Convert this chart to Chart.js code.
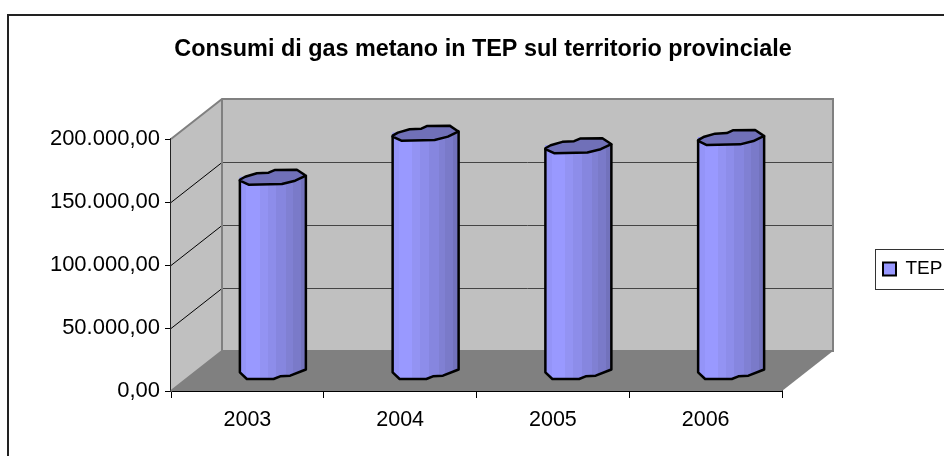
<!DOCTYPE html>
<html>
<head>
<meta charset="utf-8">
<title>Consumi di gas metano</title>
<script src="https://cdn.jsdelivr.net/npm/chart.js@4"></script>
<style>
    html, body { margin: 0; padding: 0; background: #fff; }
    canvas { display: block; }
</style>
</head>
<body>
<canvas id="chart" width="944" height="456"></canvas>
<script>
// Chart data
const years = ['2003', '2004', '2005', '2006'];
const tepValues = [154000, 189000, 179000, 185500];
const yTickLabels = ['0,00', '50.000,00', '100.000,00', '150.000,00', '200.000,00'];

// Depth of the fake 3D box
const depthX = 51;
const depthY = 40;
const barWidth = 66;

// Colour bands across a cylinder, left to right
const bandColors = ['#9494F8', '#9999FF', '#9393F3', '#8D8DEA', '#8686DF', '#8080D3', '#7A7AC9', '#7272BC'];
const bandEnds = [0.1, 0.3, 0.42, 0.55, 0.7, 0.8, 0.92, 1];

// Outline of the cap and bottom edge, relative to the cylinder centre
const capShape = [[-33, 2.7], [-27.7, -0.3], [-16, -3.7], [-4.3, -4.3], [1.7, -7], [24, -7.3], [32, -2], [33, -1.5],
    [22.3, 3.7], [9, 7], [-24.3, 7.7], [-33, 3.6]];
const bottomShape = [[-33, 1.3], [-26, 8], [0.7, 8], [7.3, 5.3], [17.3, 4.7], [31.7, -1], [33, -1.5]];

function barGradient(ctx, centerX) {
    const left = centerX - barWidth / 2;
    const gradient = ctx.createLinearGradient(left, 0, left + barWidth, 0);
    let start = 0;
    bandColors.forEach((color, i) => {
        gradient.addColorStop(start, color);
        gradient.addColorStop(bandEnds[i], color);
        start = bandEnds[i];
    });
    return gradient;
}

function polygon(ctx, points) {
    ctx.beginPath();
    points.forEach((p, i) => i ? ctx.lineTo(p[0], p[1]) : ctx.moveTo(p[0], p[1]));
    ctx.closePath();
}

// Walls, floor and grid lines behind the bars
const boxPlugin = {
    id: 'box3d',
    beforeDraw(chart) {
        const ctx = chart.ctx;
        ctx.save();
        ctx.strokeStyle = '#222';
        ctx.lineWidth = 2;
        ctx.beginPath();
        ctx.moveTo(8, 456);
        ctx.lineTo(8, 15);
        ctx.lineTo(944, 15);
        ctx.stroke();
        ctx.restore();
    },
    beforeDatasetsDraw(chart) {
        const ctx = chart.ctx;
        const { left, right, top, bottom } = chart.chartArea;
        const y = chart.scales.y;
        ctx.save();

        polygon(ctx, [[left, top], [left + depthX, top - depthY], [left + depthX, bottom - depthY], [left, bottom]]);
        ctx.fillStyle = '#C0C0C0';
        ctx.fill();
        ctx.fillRect(left + depthX, top - depthY, right - left, bottom - top);

        polygon(ctx, [[left, bottom], [right, bottom], [right + depthX, bottom - depthY], [left + depthX, bottom - depthY]]);
        ctx.fillStyle = '#808080';
        ctx.fill();

        // grid lines from the value scale
        ctx.lineWidth = 1;
        y.ticks.forEach(tick => {
            if (tick.value === 0 || tick.value === y.max) return;
            const py = Math.round(y.getPixelForValue(tick.value)) + 0.5;
            ctx.strokeStyle = '#000';
            ctx.beginPath();
            ctx.moveTo(left, py);
            ctx.lineTo(left + depthX, py - depthY);
            ctx.stroke();
            ctx.strokeStyle = '#444';
            ctx.beginPath();
            ctx.moveTo(left + depthX, py - depthY);
            ctx.lineTo(right + depthX, py - depthY);
            ctx.stroke();
        });

        // wall edges
        ctx.strokeStyle = '#808080';
        ctx.lineWidth = 2;
        ctx.beginPath();
        ctx.moveTo(left, top);
        ctx.lineTo(left + depthX, top - depthY);
        ctx.lineTo(right + depthX, top - depthY);
        ctx.lineTo(right + depthX, bottom - depthY);
        ctx.lineTo(left + depthX, bottom - depthY);
        ctx.lineTo(left + depthX, top - depthY);
        ctx.moveTo(left + depthX, bottom - depthY);
        ctx.lineTo(left, bottom);
        ctx.stroke();
        ctx.restore();
    },
    // Bars sit halfway into the box
    beforeDatasetDraw(chart) {
        chart.ctx.save();
        chart.ctx.translate(depthX / 2, -depthY / 2);
    },
    afterDatasetDraw(chart, args) {
        const ctx = chart.ctx;
        const base = chart.scales.y.getPixelForValue(0);
        ctx.lineWidth = 2.5;
        ctx.lineJoin = 'round';
        ctx.strokeStyle = '#000';
        args.meta.data.forEach(bar => {
            const cx = bar.x;
            const half = barWidth / 2;
            const bottomPts = bottomShape.map(p => [cx + p[0], base + p[1]]);

            // rounded bottom of the body
            polygon(ctx, [[cx - half, base - 2]].concat(bottomPts, [[cx + half, base - 2]]));
            ctx.fillStyle = barGradient(ctx, cx);
            ctx.fill();

            // outline of the sides and bottom
            ctx.beginPath();
            ctx.moveTo(cx - half, bar.y + 3);
            bottomPts.forEach(p => ctx.lineTo(p[0], p[1]));
            ctx.lineTo(cx + half, bar.y - 1.5);
            ctx.stroke();

            // top cap
            polygon(ctx, capShape.map(p => [cx + p[0], bar.y + p[1]]));
            ctx.fillStyle = '#7070B8';
            ctx.fill();
            ctx.stroke();
        });
        ctx.restore();
    },
    // Legend sits in a frame cut by the right edge of the picture
    afterLayout(chart) {
        chart.legend.left = 875;
        chart.legend.right = 944;
        chart.legend.top = 249;
        chart.legend.bottom = 289;
    },
    afterDraw(chart) {
        const ctx = chart.ctx;
        ctx.save();
        ctx.strokeStyle = '#333';
        ctx.lineWidth = 1;
        ctx.strokeRect(875.5, 249.5, 80, 40);
        ctx.restore();
    }
};

new Chart(document.getElementById('chart'), {
    type: 'bar',
    data: {
        labels: years,
        datasets: [{
            label: 'TEP',
            data: tepValues,
            barThickness: barWidth,
            backgroundColor: context => {
                if (context.dataIndex === undefined) return '#9999FF';
                return barGradient(context.chart.ctx, context.chart.scales.x.getPixelForValue(context.dataIndex));
            }
        }]
    },
    plugins: [boxPlugin],
    options: {
        responsive: false,
        animation: false,
        layout: { padding: { left: 22, right: 0, top: 0, bottom: 0 } },
        scales: {
            x: {
                grid: { drawOnChartArea: false, color: '#000', lineWidth: 1, tickLength: 7, offset: true },
                border: { display: true, color: '#000', width: 2 },
                ticks: { color: '#000', padding: 9, font: { family: 'Liberation Sans', size: 21.5 }, maxRotation: 0 },
                afterFit: scale => {
                    scale.height = 65;
                    scale.paddingRight = 162;
                    scale.paddingLeft = 0;
                }
            },
            y: {
                min: 0,
                max: 200000,
                grid: { drawOnChartArea: false, color: '#000', lineWidth: 1, tickLength: 6 },
                border: { display: true, color: '#222', width: 2 },
                ticks: {
                    stepSize: 50000,
                    color: '#000',
                    padding: 5,
                    font: { family: 'Liberation Sans', size: 22 },
                    callback: (value, index) => yTickLabels[index]
                },
                afterFit: scale => { scale.width = 149; }
            }
        },
        plugins: {
            title: {
                display: true,
                text: 'Consumi di gas metano in TEP sul territorio provinciale',
                color: '#000',
                font: { family: 'Liberation Sans', size: 23.4, weight: 'bold' },
                padding: { top: 36, bottom: 75 }
            },
            legend: {
                position: 'right',
                labels: {
                    color: '#000',
                    boxWidth: 13,
                    boxHeight: 13,
                    padding: 8,
                    font: { family: 'Liberation Sans', size: 19 },
                    generateLabels: chart => chart.data.datasets.map((ds, i) => ({
                        text: ds.label,
                        fillStyle: '#9999FF',
                        strokeStyle: '#000',
                        lineWidth: 2,
                        datasetIndex: i
                    }))
                }
            },
            tooltip: { enabled: false }
        }
    }
});
</script>
</body>
</html>
